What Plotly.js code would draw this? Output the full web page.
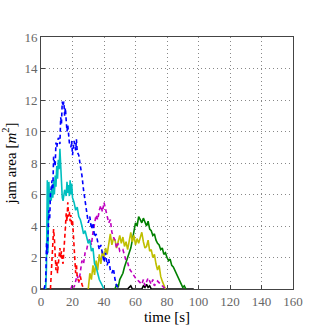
<!DOCTYPE html>
<html>
<head>
<meta charset="utf-8">
<script src="https://cdn.plot.ly/plotly-3.0.1.min.js"></script>
<style>
  html, body { margin: 0; padding: 0; background: #fff; }
  #jam { width: 327px; height: 327px; }
</style>
</head>
<body>
<div id="jam"></div>
<script>
// series: time [s] and jam area [m^2]
var blueT = [2,3,3.5,4,5,5.5,6,7,7.5,8,9,9.5,10,11,12,12.5,13,13.5,14,14.5,15,15.5,16,16.5,17,18,19,19.5,20,21,22,22.5,23,24,25,26,27,28,29,30,31,32,33,34,35,36,37,38,39,40,41,42,43,44,45,46,47,48,49,50];
var blueV = [0,0.5,2.9,2.2,5.0,4.4,6.0,6.9,6.3,8.4,7.8,9.3,9.0,9.6,9.2,10.9,10.5,11.9,11.6,11.9,11.0,11.5,10.7,10.0,10.4,9.3,9.0,9.4,8.5,9.4,8.8,9.5,8.7,8.5,7.8,7.2,6.3,5.6,4.8,4.2,4.6,3.8,4.2,3.3,3.5,2.9,2.5,2.8,2.1,1.7,2.3,1.5,1.9,1.2,1.0,1.3,0.6,0.2,0.1,0];

var cyanT = [3,3.5,4,4.4,5,5.5,6,6.5,7,7.5,8,8.5,9,9.5,10,10.5,11,11.5,12,12.5,13,13.5,14,15,16,16.5,17,17.5,18,18.5,19,19.5,20,21,22,23,24,25,26,27,28,29,30,31,32,33,34,35,36,37,38,39,40];
var cyanV = [0,1.5,6.9,2.3,6.8,5.5,6.2,5.6,6.6,5.8,6.9,6.0,7.2,6.5,7.8,7.0,8.2,7.6,8.9,7.5,6.5,5.8,5.6,6.3,5.9,6.8,6.1,6.6,5.9,6.9,6.0,6.7,5.8,5.5,5.0,5.2,4.6,4.4,4.0,3.5,3.7,3.2,2.9,3.1,2.4,2.6,1.6,1.4,1.0,0.6,0.4,0.2,0];

var redT = [6,6.5,7,7.5,8,8.5,9,9.5,10,10.5,11,11.5,12,12.5,13,13.5,14,14.5,15,15.5,16,16.5,17,17.5,18,18.5,19,19.5,20,20.5,21,21.5,22,22.5,23,24,25,26,27];
var redV = [0,0.8,2.0,3.0,3.8,3.2,2.4,1.2,1.8,1.0,1.6,2.2,2.6,2.0,2.4,1.8,1.6,2.4,3.0,3.9,4.8,4.3,5.5,4.6,4.9,4.3,4.7,4.0,4.4,3.6,2.5,1.4,1.0,1.6,0.7,0.5,0.8,0.3,0];

var magT = [19,20,21,22,23,24,25,26,27,28,29,30,31,32,33,34,35,36,37,38,39,40,41,42,43,44,45,46,47,48,49,50,52,54,55,56,58,60,62,64,65,66,68,70,71,72,74,76,78,80];
var magV = [0,0.3,0.1,0.5,0.9,0.4,1.2,1.8,1.6,2.3,2.5,3.0,3.2,2.8,3.6,4.2,4.7,4.4,5.0,5.3,4.9,5.5,5.0,4.6,4.2,4.4,3.6,3.3,3.1,2.6,2.9,2.4,2.5,1.8,1.7,1.3,1.0,0.7,0.5,0.3,0.6,0.2,0.7,0.3,0.6,0.2,0.5,0.3,0.1,0];

var yelT = [30,31,32,33,34,35,36,37,38,39,40,41,42,43,44,45,46,47,48,49,50,51,52,53,54,55,56,57,58,59,60,61,62,63,64,65,66,67,68,69,70,71,72,73,74,75,76,77,78,79];
var yelV = [0,1.0,0.6,1.5,0.9,1.8,1.2,2.2,1.6,2.4,2.0,2.6,2.2,2.9,3.5,2.8,3.2,3.1,2.6,3.0,3.4,2.9,3.3,2.7,3.0,2.5,3.1,3.6,3.0,3.4,2.8,3.2,2.9,3.3,3.6,3.0,2.6,2.7,3.1,2.4,2.5,2.0,2.2,1.6,1.2,1.5,0.8,0.5,0.3,0];

var grnT = [47,48,49,50,51,52,53,54,55,56,57,58,59,60,61,62,63,64,65,66,67,68,69,70,71,72,73,74,75,76,77,78,79,80,81,82,83,84,85,86,87,88,89,90,91,92];
var grnV = [0,0.3,0.1,0.6,0.8,1.0,1.4,1.7,2.0,2.4,2.6,3.1,3.6,4.2,4.0,4.6,4.4,4.2,4.5,4.2,4.0,4.3,3.8,3.7,3.4,3.5,3.1,2.9,2.8,2.5,2.6,2.2,2.3,2.0,1.8,1.9,1.5,1.4,1.2,1.0,0.8,0.6,0.4,0.1,0.2,0];

var blkT = [0,55,56,57,58,64,65,66,67,68,69,70,97];
var blkV = [0,0,0.1,0.2,0,0,0.2,0.1,0.3,0.1,0.2,0,0];

var xTicks = [0,20,40,60,80,100,120,140,160];
var yTicks = [0,2,4,6,8,10,12,14,16];

function line(t, v, color, dash) {
  return {
    x: t, y: v,
    type: 'scatter', mode: 'lines',
    line: { color: color, width: 1.6, dash: dash || 'solid' },
    hoverinfo: 'skip'
  };
}

var data = [
  line(blkT, blkV, '#000000'),
  line(grnT, grnV, '#008000'),
  line(yelT, yelV, '#bfbf00'),
  line(magT, magV, '#bf00bf', '4px,3px'),
  line(redT, redV, '#ff0000', '4px,3px'),
  line(cyanT, cyanV, '#00bfbf'),
  line(blueT, blueV, '#0000ff', '4px,3px')
];

var serif = 'Liberation Serif, DejaVu Serif, serif';

var layout = {
  width: 327, height: 327,
  margin: { l: 41, r: 34, t: 37, b: 38 },
  paper_bgcolor: '#fff', plot_bgcolor: '#fff',
  showlegend: false,
  font: { family: serif, size: 13, color: '#000' },
  xaxis: {
    range: [0, 160], tickvals: xTicks, ticktext: xTicks.map(String),
    showline: true, mirror: true, linecolor: '#444', linewidth: 1,
    ticks: 'inside', ticklen: 4, tickcolor: '#444',
    showgrid: true, gridcolor: '#888', griddash: '1px,3px', gridwidth: 1,
    zeroline: false, tickfont: { family: serif, size: 13, color: '#666' },
    title: { text: 'time [s]', font: { family: serif, size: 15, color: '#000' }, standoff: 2 }
  },
  yaxis: {
    range: [0, 16], tickvals: yTicks, ticktext: yTicks.map(String),
    showline: true, mirror: true, linecolor: '#444', linewidth: 1,
    ticks: 'inside', ticklen: 4, tickcolor: '#444',
    showgrid: true, gridcolor: '#888', griddash: '1px,3px', gridwidth: 1,
    zeroline: false, tickfont: { family: serif, size: 13, color: '#666' },
    title: { text: 'jam area [<i>m</i><sup>2</sup>]', font: { family: serif, size: 15, color: '#000' }, standoff: 4 }
  }
};

Plotly.newPlot('jam', data, layout, { staticPlot: true, displayModeBar: false });
</script>
</body>
</html>
